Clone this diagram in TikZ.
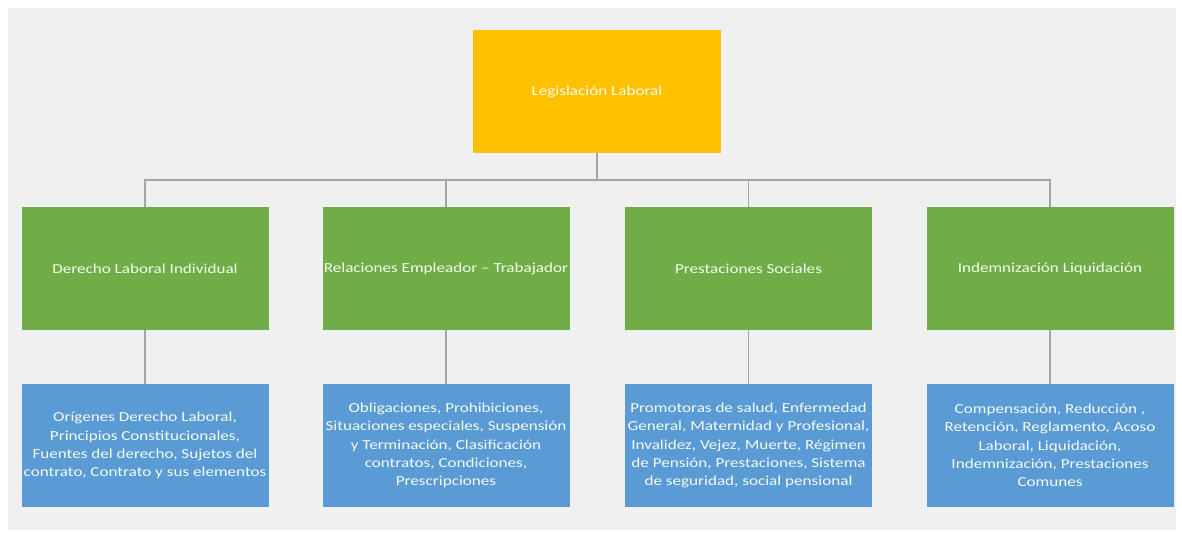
\documentclass[tikz,border=0pt]{standalone}
\usepackage{fontspec}
\setmainfont{Carlito}[FakeStretch=1.24]
\definecolor{bggray}{HTML}{F0F0F0}
\definecolor{topyel}{HTML}{FFC000}
\definecolor{midgreen}{HTML}{70AD47}
\definecolor{lowblue}{HTML}{5B9BD5}
\definecolor{linegray}{HTML}{A5A5A5}
\definecolor{txtwhite}{HTML}{F4FBEF}
\tikzset{
  box/.style={draw=none, minimum height=123pt, minimum width=247pt, inner sep=0pt, align=center,
    text=txtwhite, font=\fontsize{13.8}{18.3}\selectfont},
  topbox/.style={box, fill=topyel, minimum width=248pt},
  greenbox/.style={box, fill=midgreen},
  bluebox/.style={box, fill=lowblue},
  conn/.style={draw=linegray, line width=1.2pt}
}
\begin{document}
\begin{tikzpicture}[x=1pt,y=-1pt]
\useasboundingbox (0,0) rectangle (1182,538);
\fill[white] (0,0) rectangle (1182,538);
\fill[bggray] (8,8) rectangle (1176,530);
\node[topbox] (top) at (597,91.5) {Legislación Laboral};
\node[greenbox] (g1) at (145,268.5) {Derecho Laboral Individual};
\node[greenbox] (g2) at (446,268.5) {Relaciones Empleador – Trabajador};
\node[greenbox] (g3) at (748.5,268.5) {Prestaciones Sociales};
\node[greenbox] (g4) at (1050,268.5) {Indemnización Liquidación};
\node[bluebox] (b1) at (145,445.5) {Orígenes Derecho Laboral,\\Principios Constitucionales,\\Fuentes del derecho, Sujetos del\\contrato, Contrato y sus elementos};
\node[bluebox] (b2) at (446,445.5) {Obligaciones, Prohibiciones,\\Situaciones especiales, Suspensión\\y Terminación, Clasificación\\contratos, Condiciones,\\Prescripciones};
\node[bluebox] (b3) at (748.5,445.5) {Promotoras de salud, Enfermedad\\General, Maternidad y Profesional,\\Invalidez, Vejez, Muerte, Régimen\\de Pensión, Prestaciones, Sistema\\de seguridad, social pensional};
\node[bluebox] (b4) at (1050,445.5) {Compensación, Reducción ,\\Retención, Reglamento, Acoso\\Laboral, Liquidación,\\Indemnización, Prestaciones\\Comunes};
\coordinate (bus) at (597,180);
\draw[conn] (top.south) -- (bus);
\draw[conn] (g1.north) |- (bus) -| (g4.north);
\draw[conn] (g2.north) -- (g2.north |- bus);
\draw[conn] (g3.north) -- (g3.north |- bus);
\draw[conn] (g1.south) -- (b1.north);
\draw[conn] (g2.south) -- (b2.north);
\draw[conn] (g3.south) -- (b3.north);
\draw[conn] (g4.south) -- (b4.north);
\end{tikzpicture}
\end{document}
